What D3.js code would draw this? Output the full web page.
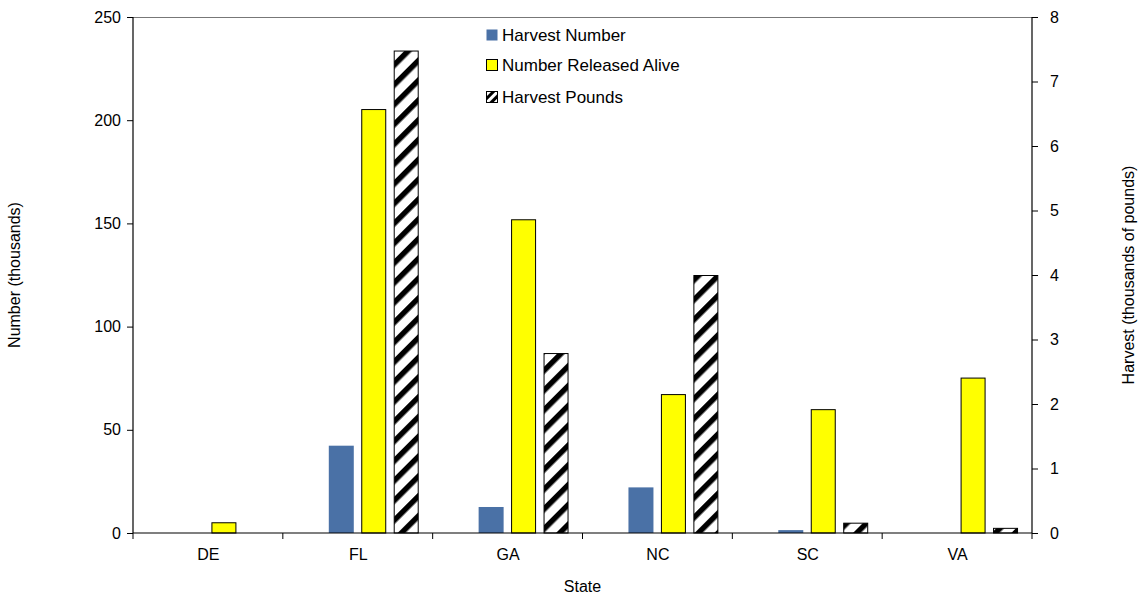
<!DOCTYPE html>
<html>
<head>
<meta charset="utf-8">
<script src="https://cdn.jsdelivr.net/npm/d3@7"></script>
<style>
  html, body { margin: 0; padding: 0; background: #fff; }
  svg { display: block; font-family: "Liberation Sans", Arial, sans-serif; }
</style>
</head>
<body>
<svg id="chart" width="1148" height="599"></svg>
<script>
const categories = ["DE", "FL", "GA", "NC", "SC", "VA"];
const seriesNames = ["Harvest Number", "Number Released Alive", "Harvest Pounds"];
const harvestNumber = [0, 42.3, 12.6, 22.1, 1.4, 0];
const releasedAlive = [5.2, 205.4, 152, 67.3, 60, 75.3];
const harvestPounds = [0, 7.48, 2.79, 4.0, 0.16, 0.08];
const leftTicks = [0, 50, 100, 150, 200, 250];
const rightTicks = [0, 1, 2, 3, 4, 5, 6, 7, 8];

const svg = d3.select("#chart");
const L = 133, R = 1032, T = 17, B = 533;

// hatch pattern
const defs = svg.append("defs");
const pat = defs.append("pattern")
  .attr("id", "hatch").attr("patternUnits", "userSpaceOnUse")
  .attr("width", 14).attr("height", 14)
  .attr("patternTransform", "rotate(45)");
pat.append("rect").attr("width", 14).attr("height", 14).attr("fill", "#fff");
pat.append("rect").attr("x", 0).attr("y", 0).attr("width", 5.5).attr("height", 14).attr("fill", "#000");

const pat2 = defs.append("pattern")
  .attr("id", "hatchSmall").attr("patternUnits", "userSpaceOnUse")
  .attr("width", 6).attr("height", 6)
  .attr("patternTransform", "rotate(45)");
pat2.append("rect").attr("width", 6).attr("height", 6).attr("fill", "#fff");
pat2.append("rect").attr("width", 3).attr("height", 6).attr("fill", "#000");

const x0 = d3.scaleBand().domain(categories).range([L, R]).paddingInner(0).paddingOuter(0);
const x1 = d3.scaleBand().domain(seriesNames).range([0, x0.bandwidth()])
  .paddingInner(0.23).paddingOuter(0.923).align(0.767);
const yL = d3.scaleLinear().domain([0, 250]).range([B, T]);
const yR = d3.scaleLinear().domain([0, 8]).range([B, T]);

// top border
svg.append("line").attr("x1", L).attr("x2", R).attr("y1", T + 0.5).attr("y2", T + 0.5)
  .attr("stroke", "#777").attr("stroke-width", 1);

const rows = categories.map((c, i) => ({c, hn: harvestNumber[i], ra: releasedAlive[i], hp: harvestPounds[i]}));

// bars
const g = svg.append("g");
g.selectAll(".hn").data(rows).join("rect")
  .attr("x", d => x0(d.c) + x1("Harvest Number"))
  .attr("width", x1.bandwidth())
  .attr("y", d => yL(d.hn)).attr("height", d => B - yL(d.hn))
  .attr("fill", "#4a71a6");
g.selectAll(".ra").data(rows).join("rect")
  .attr("x", d => x0(d.c) + x1("Number Released Alive") + 0.5)
  .attr("width", x1.bandwidth() - 1)
  .attr("y", d => yL(d.ra) + 0.5).attr("height", d => Math.max(0, B - yL(d.ra) - 0.5))
  .attr("fill", "#ffff00").attr("stroke", "#000").attr("stroke-width", 1);
g.selectAll(".hp").data(rows.filter(d => d.hp > 0)).join("rect")
  .attr("x", d => x0(d.c) + x1("Harvest Pounds") + 0.5)
  .attr("width", x1.bandwidth() - 1)
  .attr("y", d => yR(d.hp) + 0.5).attr("height", d => Math.max(0, B - yR(d.hp) - 0.5))
  .attr("fill", "url(#hatch)").attr("stroke", "#000").attr("stroke-width", 1);

// left axis
const axL = svg.append("g").attr("transform", `translate(${L},0)`)
  .call(d3.axisLeft(yL).tickValues(leftTicks).tickSize(6).tickPadding(6).tickFormat(d3.format("d")));
// right axis
const axR = svg.append("g").attr("transform", `translate(${R},0)`)
  .call(d3.axisRight(yR).tickValues(rightTicks).tickSize(6).tickPadding(12).tickFormat(d3.format("d")));
// bottom axis
const xb = d3.scalePoint().domain(categories).range([L + x0.bandwidth() / 2, R - x0.bandwidth() / 2]);
const axB = svg.append("g").attr("transform", `translate(0,${B})`)
  .call(d3.axisBottom(xb).tickSize(0).tickPadding(16));
const boundaries = categories.map(c => x0(c)).concat([R]);
svg.append("g").selectAll("line").data(boundaries).join("line")
  .attr("x1", d => d).attr("x2", d => d).attr("y1", B).attr("y2", B + 6)
  .attr("stroke", "#000");

[axL, axR, axB].forEach(a => {
  a.selectAll("path.domain").attr("stroke", "#000").attr("stroke-width", 1.2);
  a.selectAll("line").attr("stroke", "#000");
  a.selectAll("text").attr("font-size", 16).attr("fill", "#000")
    .attr("font-family", "'Liberation Sans', Arial, sans-serif");
});
axL.select("path.domain").attr("d", `M0,${T}V${B}`);
axR.select("path.domain").attr("d", `M0,${T}V${B}`);
axB.select("path.domain").attr("d", `M${L},0H${R}`);

// axis titles
svg.append("text").attr("transform", `translate(20,${(T + B) / 2}) rotate(-90)`)
  .attr("text-anchor", "middle").attr("font-size", 16).text("Number (thousands)");
svg.append("text").attr("transform", `translate(1134,${(T + B) / 2}) rotate(-90)`)
  .attr("text-anchor", "middle").attr("font-size", 16).text("Harvest (thousands of pounds)");
svg.append("text").attr("x", (L + R) / 2).attr("y", 592)
  .attr("text-anchor", "middle").attr("font-size", 16).text("State");

// legend
const legend = svg.append("g");
const legY = [35, 65, 97];
const legFill = ["#4a71a6", "#ffff00", "url(#hatchSmall)"];
seriesNames.forEach((s, i) => {
  const gg = legend.append("g").attr("transform", `translate(486,${legY[i]})`);
  gg.append("rect").attr("x", 0.5).attr("y", -5.5).attr("width", 11).attr("height", 11)
    .attr("fill", legFill[i]).attr("stroke", i === 0 ? "none" : "#000");
  gg.append("text").attr("x", 16).attr("y", 6).attr("font-size", 17).text(s);
});
</script>
</body>
</html>
